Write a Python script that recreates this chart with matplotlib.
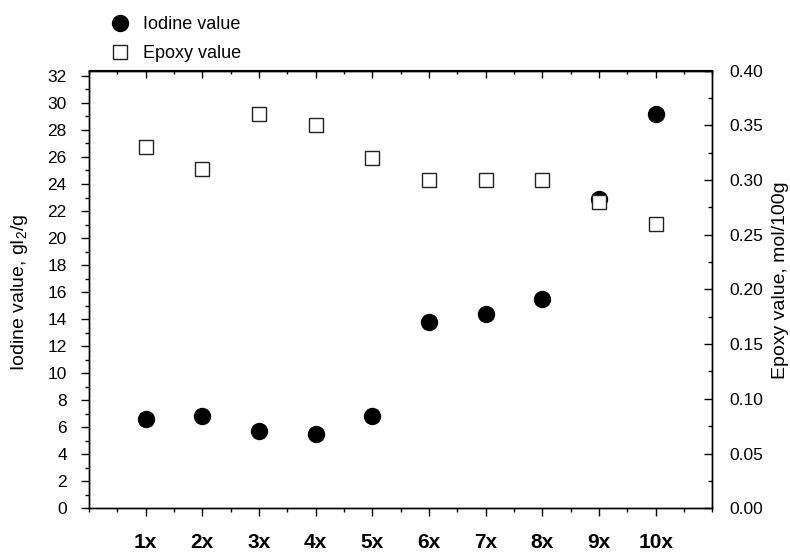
import matplotlib
matplotlib.use("Agg")
import matplotlib.pyplot as plt
from matplotlib.ticker import MultipleLocator, FixedLocator, FormatStrFormatter
from matplotlib.lines import Line2D

plt.rcParams['font.family'] = ['Liberation Sans', 'DejaVu Sans']
plt.rcParams['mathtext.fontset'] = 'custom'
plt.rcParams['mathtext.rm'] = 'Liberation Sans'
plt.rcParams['mathtext.it'] = 'Liberation Sans:italic'
plt.rcParams['mathtext.bf'] = 'Liberation Sans:bold'

categories = ["1x", "2x", "3x", "4x", "5x", "6x", "7x", "8x", "9x", "10x"]
iodine_value = [6.6, 6.8, 5.7, 5.5, 6.8, 13.8, 14.4, 15.5, 22.9, 29.2]
epoxy_value = [0.33, 0.31, 0.36, 0.35, 0.32, 0.30, 0.30, 0.30, 0.28, 0.26]
left_ticks = list(range(0, 33, 2))
right_ticks = [0.00, 0.05, 0.10, 0.15, 0.20, 0.25, 0.30, 0.35, 0.40]

x = list(range(1, len(categories) + 1))

fig = plt.figure(figsize=(7.9, 5.52), dpi=100)
ax = fig.add_axes([89/790, 1-508.3/552, 623.3/790, 437.8/552])
ax2 = ax.twinx()

ax.plot(x, iodine_value, 'o', color='black', markersize=11.5, linestyle='none', zorder=3)
ax2.plot(x, epoxy_value, 's', markerfacecolor='white', markeredgecolor='#222222',
         markeredgewidth=1.0, markersize=10.5, linestyle='none', zorder=3)

ax.set_xlim(0, 11)
ax.set_ylim(0, 32.4)
ax2.set_ylim(0, 0.40)

ax.set_xticks(x)
ax.set_xticklabels(categories, fontsize=15, fontweight='bold')
ax.xaxis.set_minor_locator(MultipleLocator(0.5))

ax.set_yticks(left_ticks)
ax.set_yticklabels([str(t) for t in left_ticks], fontsize=12.5)
ax.yaxis.set_minor_locator(MultipleLocator(1))

ax2.set_yticks(right_ticks)
ax2.yaxis.set_major_formatter(FormatStrFormatter('%.2f'))
ax2.yaxis.set_minor_locator(MultipleLocator(0.025))

ax.tick_params(axis='x', which='both', bottom=True, top=False, direction='out', width=1.0)
ax.tick_params(axis='x', which='major', length=6, pad=11.5)
ax.tick_params(axis='x', which='minor', length=3)
ax.tick_params(axis='y', which='major', direction='out', length=6, width=1.0, pad=10)
ax.tick_params(axis='y', which='minor', direction='out', length=3, width=1.0)
ax2.tick_params(axis='y', which='major', direction='in', length=6, width=1.0, pad=12.5,
                labelsize=12.5)
ax2.tick_params(axis='y', which='minor', direction='in', length=3, width=1.0)

# top ticks pointing inward
secx = ax.secondary_xaxis('top')
secx.set_xticks(x)
secx.xaxis.set_minor_locator(MultipleLocator(0.5))
secx.tick_params(axis='x', which='major', direction='in', length=6, width=1.0, labeltop=False)
secx.tick_params(axis='x', which='minor', direction='in', length=3, width=1.0)
secx.set_xticklabels([])

for a in (ax, ax2):
    for s in a.spines.values():
        s.set_linewidth(1.0)

ax.set_ylabel("Iodine value, gI$_2$/g", fontsize=14, va='center')
ax.yaxis.set_label_coords(-0.112, 0.494)
ax2.set_ylabel("Epoxy value, mol/100g", fontsize=14, va='center', rotation=90)
ax2.yaxis.set_label_coords(1.110, 0.522)

handles = [
    Line2D([], [], marker='o', color='black', linestyle='none', markersize=11.5),
    Line2D([], [], marker='s', markerfacecolor='white', markeredgecolor='#222222',
           markeredgewidth=1.0, linestyle='none', markersize=10.5),
]
fig.legend(handles, ["Iodine value", "Epoxy value"], loc='upper left',
           bbox_to_anchor=(111/790, 1-16/552), frameon=False, fontsize=13,
           borderpad=0, borderaxespad=0, handlelength=1.0, handletextpad=0.75,
           labelspacing=0.68, numpoints=1)

fig.savefig("out.png", dpi=100)
